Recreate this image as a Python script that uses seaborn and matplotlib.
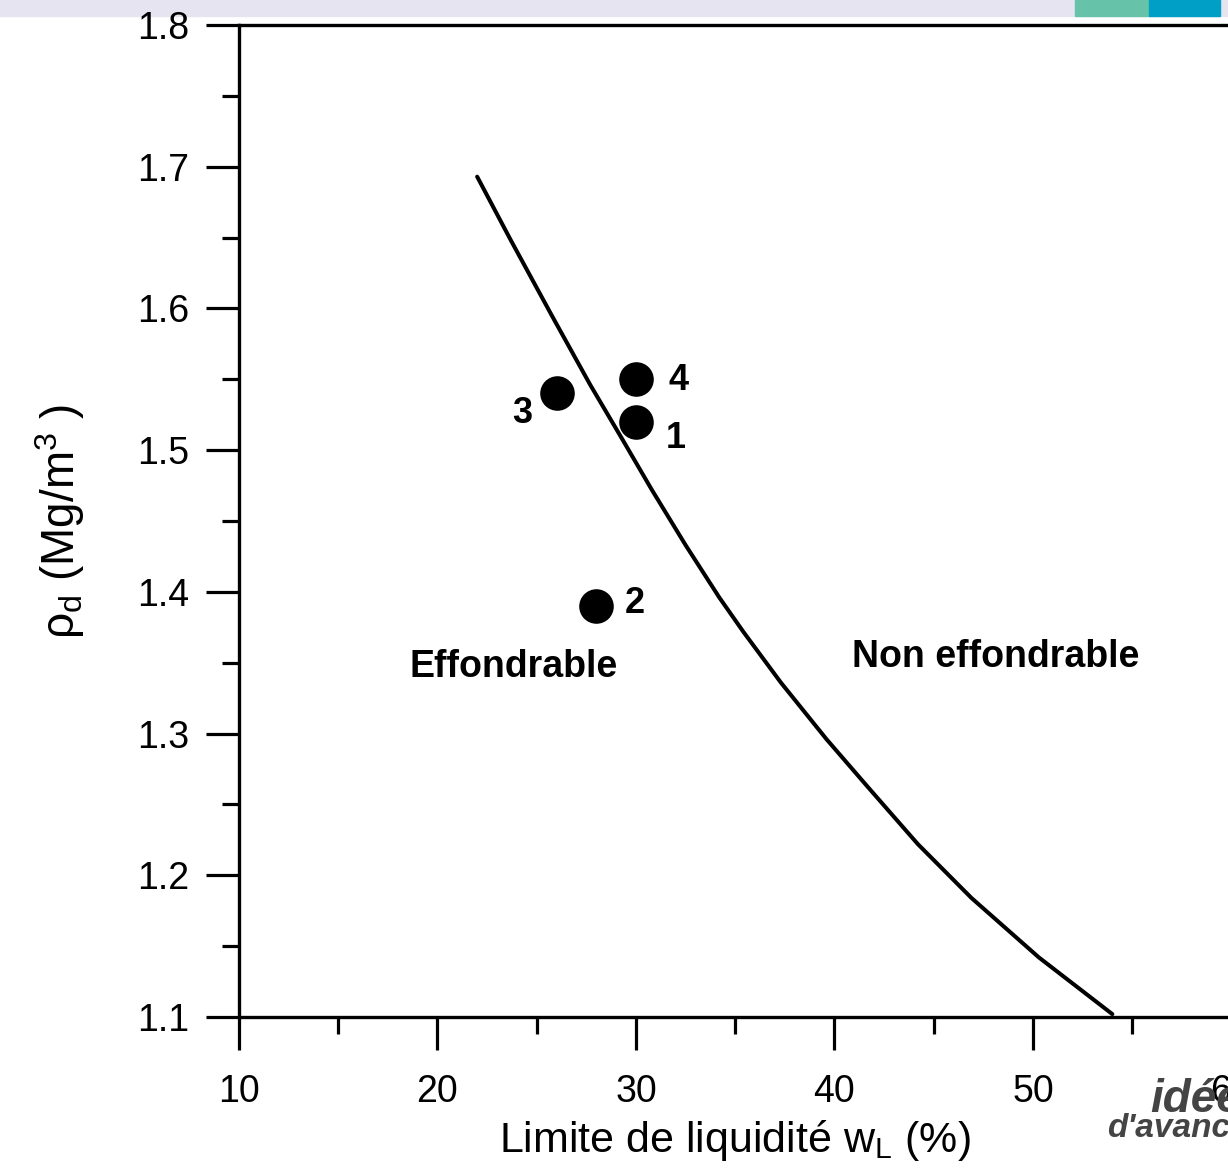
import matplotlib
matplotlib.use("Agg")
import matplotlib.pyplot as plt
import matplotlib.patches as mpatches
from matplotlib.ticker import MultipleLocator
import pandas as pd
import seaborn as sns

# Sample points (liquid limit %, dry density Mg/m3)
sample_ids = ["1", "2", "3", "4"]
liquid_limit = [30.0, 28.0, 26.0, 30.0]
dry_density = [1.52, 1.39, 1.54, 1.55]

# Collapse boundary curve
boundary_wl = [22.0, 23.7, 25.8, 27.7, 29.3, 30.8, 32.5, 34.2, 35.4, 37.3,
               39.6, 41.7, 44.2, 46.9, 50.3, 54.0]
boundary_rho = [1.693, 1.648, 1.594, 1.546, 1.508, 1.472, 1.433, 1.396, 1.372, 1.336,
                1.296, 1.262, 1.222, 1.184, 1.142, 1.102]

# Where the sample numbers sit
label_x = [32.0, 29.95, 24.26, 32.17]
label_y = [1.508, 1.392, 1.526, 1.549]

zone_names = ["Effondrable", "Non effondrable"]
zone_x = [23.85, 48.1]
zone_y = [1.347, 1.354]

sns.set_theme(style="ticks")
plt.rcParams["font.family"] = ["Liberation Sans", "DejaVu Sans"]
plt.rcParams["mathtext.fontset"] = "custom"
plt.rcParams["mathtext.rm"] = "Liberation Sans"
plt.rcParams["mathtext.it"] = "Liberation Sans:italic"
plt.rcParams["text.color"] = "black"
plt.rcParams["axes.labelcolor"] = "black"

points = pd.DataFrame({"wl": liquid_limit, "rho": dry_density, "id": sample_ids})
curve = pd.DataFrame({"wl": boundary_wl, "rho": boundary_rho})

fig = plt.figure(figsize=(12.28, 11.75), dpi=100)
ax = fig.add_axes([0.1946, 0.1345, 0.8082, 0.8442])

sns.lineplot(data=curve, x="wl", y="rho", ax=ax, color="black", linewidth=2.9,
             sort=False, estimator=None)
sns.scatterplot(data=points, x="wl", y="rho", ax=ax, color="black", s=620,
                edgecolor="black", linewidth=0, zorder=3)

for sid, tx, ty in zip(sample_ids, label_x, label_y):
    ax.text(tx, ty, sid, fontsize=26, fontweight="bold", ha="center", va="center")
for name, tx, ty in zip(zone_names, zone_x, zone_y):
    ax.text(tx, ty, name, fontsize=27, fontweight="bold", ha="center", va="center")

ax.set_xlim(10, 60)
ax.set_ylim(1.1, 1.8)
ax.xaxis.set_major_locator(MultipleLocator(10))
ax.xaxis.set_minor_locator(MultipleLocator(5))
ax.yaxis.set_major_locator(MultipleLocator(0.1))
ax.yaxis.set_minor_locator(MultipleLocator(0.05))
ax.yaxis.set_major_formatter(plt.FuncFormatter(lambda v, p: f"{v:.1f}"))

ax.tick_params(which="major", direction="out", length=24, width=2.3,
               labelsize=27, pad=12, colors="black")
ax.tick_params(axis="x", which="major", pad=17)
ax.tick_params(which="minor", direction="out", length=12, width=2.3, colors="black")
for side in ["left", "bottom", "top", "right"]:
    ax.spines[side].set_linewidth(2.4)
    ax.spines[side].set_color("black")

ax.set_xlabel(r"Limite de liquidité w$_{\mathrm{L}}$ (%)", fontsize=31, labelpad=6)
ax.set_ylabel(r"ρ$_{\mathrm{d}}$ (Mg/m$^{3}$ )", fontsize=33, labelpad=36)

# slide decorations around the cropped chart
band_h = 16 / 1175
fig.patches.append(mpatches.Rectangle((0, 1 - band_h), 1, band_h,
                                      transform=fig.transFigure, color="#E6E4F0", zorder=-2))
fig.patches.append(mpatches.Rectangle((1075 / 1228, 1 - band_h), 74 / 1228, band_h,
                                      transform=fig.transFigure, color="#66C3A9", zorder=-1))
fig.patches.append(mpatches.Rectangle((1149 / 1228, 1 - band_h), 71 / 1228, band_h,
                                      transform=fig.transFigure, color="#00A0C6", zorder=-1))
fig.text(1150 / 1228, 1 - 1112 / 1175, "idées", fontsize=33, fontweight="bold",
         style="italic", color="#444444")
fig.text(1107 / 1228, 1 - 1137 / 1175, "d'avance", fontsize=24, fontweight="bold",
         style="italic", color="#444444")

fig.savefig("out.png", dpi=100)
